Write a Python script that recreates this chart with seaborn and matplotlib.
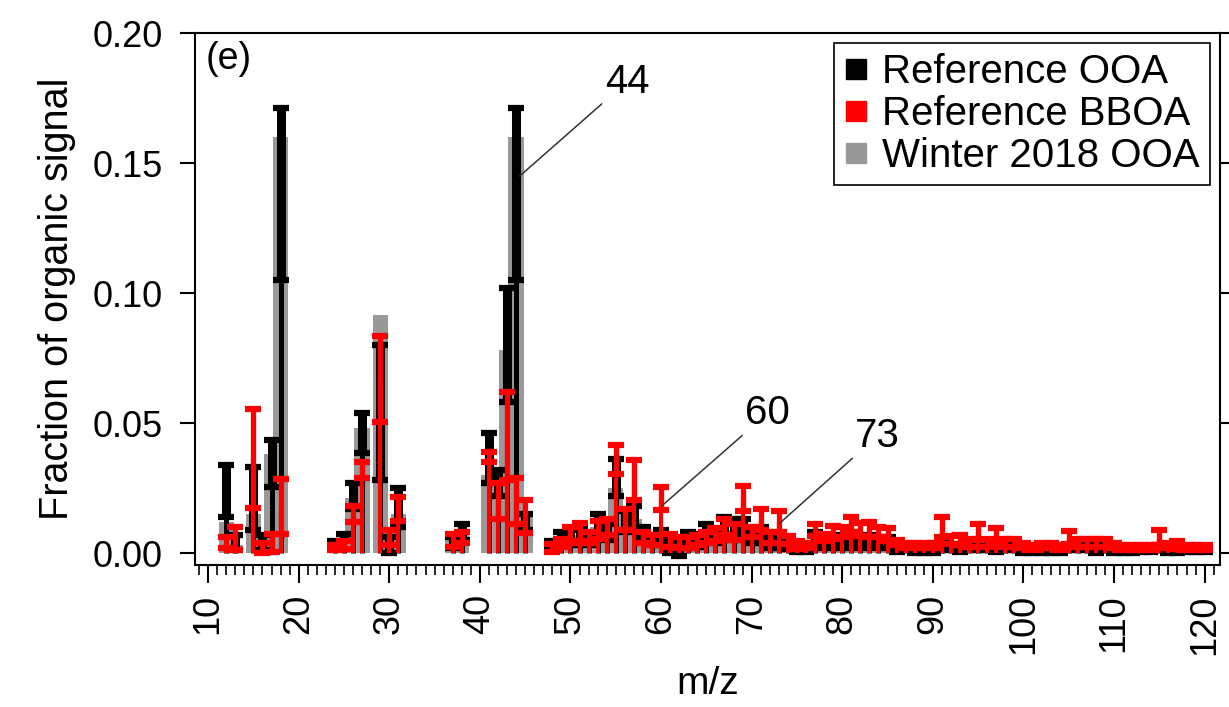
import matplotlib
matplotlib.use("Agg")
import matplotlib.pyplot as plt
import seaborn as sns
import numpy as np
from matplotlib.lines import Line2D
from matplotlib.ticker import MultipleLocator, FormatStrFormatter

# m/z values shown
mz = [12, 13, 15, 16, 17, 18, 24, 25, 26, 27, 29, 30, 31, 37, 38, 41, 42, 43, 44, 45,
      48, 49, 50, 51, 52, 53, 54, 55, 56, 57, 58, 59, 60, 61, 62, 63, 64, 65, 66, 67,
      68, 69, 70, 71, 72, 73, 74, 75, 76, 77, 78, 79, 80, 81, 82, 83, 84, 85, 86, 87,
      88, 89, 90, 91, 92, 93, 94, 95, 96, 97, 98, 99, 100, 101, 102, 103, 104, 105, 106, 107,
      108, 109, 110, 111, 112, 113, 114, 115, 116, 117, 118, 119, 120]

# Reference OOA (mean, sd)
ooa = [0.024, 0.004, 0.021, 0.004, 0.0345, 0.138, 0.003, 0.006, 0.022, 0.046, 0.054, 0.003, 0.0175, 0.004, 0.008, 0.0365, 0.027, 0.080, 0.138, 0.012,
       0.003, 0.006, 0.006, 0.007, 0.005, 0.011, 0.008, 0.029, 0.012, 0.014, 0.008, 0.005, 0.006, 0.003, 0.002, 0.005, 0.005, 0.008, 0.006, 0.010,
       0.009, 0.010, 0.006, 0.007, 0.004, 0.004, 0.003, 0.002, 0.002, 0.006, 0.004, 0.005, 0.004, 0.006, 0.004, 0.005, 0.004, 0.004, 0.002, 0.002,
       0.001, 0.001, 0.001, 0.003, 0.002, 0.002, 0.002, 0.003, 0.002, 0.002, 0.002, 0.002, 0.001, 0.001, 0.001, 0.001, 0.001, 0.002, 0.002, 0.002,
       0.001, 0.002, 0.001, 0.001, 0.001, 0.001, 0.001, 0.002, 0.001, 0.001, 0.001, 0.001, 0.001]
ooa_sd = [0.010, 0.003, 0.012, 0.003, 0.009, 0.033, 0.0015, 0.0015, 0.005, 0.0077, 0.026, 0.003, 0.0075, 0.002, 0.003, 0.0095, 0.005, 0.022, 0.033, 0.003,
          0.0015, 0.002, 0.003, 0.003, 0.002, 0.004, 0.003, 0.007, 0.004, 0.004, 0.002, 0.002, 0.003, 0.003, 0.003, 0.003, 0.0025, 0.003, 0.002, 0.004,
          0.004, 0.003, 0.002, 0.003, 0.002, 0.002, 0.0015, 0.0015, 0.0015, 0.002, 0.002, 0.002, 0.002, 0.002, 0.002, 0.002, 0.002, 0.002, 0.0015, 0.001,
          0.001, 0.001, 0.001, 0.002, 0.001, 0.0015, 0.001, 0.002, 0.001, 0.0015, 0.001, 0.001, 0.001, 0.001, 0.001, 0.001, 0.001, 0.001, 0.001, 0.001,
          0.001, 0.001, 0.001, 0.001, 0.001, 0.0005, 0.0005, 0.001, 0.001, 0.001, 0.0005, 0.0005, 0.0005]

# Reference BBOA (mean, sd)
bboa = [0.004, 0.0055, 0.0365, 0.002, 0.004, 0.018, 0.002, 0.003, 0.015, 0.032, 0.067, 0.006, 0.017, 0.005, 0.006, 0.037, 0.020, 0.045, 0.020, 0.014,
        0.002, 0.004, 0.007, 0.008, 0.006, 0.009, 0.010, 0.036, 0.013, 0.028, 0.006, 0.005, 0.021, 0.005, 0.004, 0.004, 0.005, 0.006, 0.007, 0.010,
        0.008, 0.021, 0.008, 0.013, 0.006, 0.012, 0.005, 0.003, 0.003, 0.009, 0.006, 0.008, 0.008, 0.011, 0.009, 0.009, 0.008, 0.007, 0.004, 0.003,
        0.003, 0.003, 0.003, 0.010, 0.005, 0.005, 0.004, 0.008, 0.004, 0.007, 0.004, 0.004, 0.003, 0.002, 0.003, 0.003, 0.002, 0.006, 0.004, 0.004,
        0.004, 0.004, 0.003, 0.002, 0.002, 0.002, 0.002, 0.006, 0.003, 0.003, 0.002, 0.002, 0.002]
bboa_sd = [0.002, 0.0045, 0.019, 0.002, 0.0035, 0.0105, 0.001, 0.0015, 0.003, 0.003, 0.0165, 0.003, 0.0045, 0.0025, 0.002, 0.002, 0.007, 0.017, 0.009, 0.0064,
           0.0015, 0.0015, 0.003, 0.0035, 0.002, 0.0035, 0.003, 0.0055, 0.004, 0.0077, 0.002, 0.002, 0.0045, 0.0025, 0.002, 0.002, 0.002, 0.002, 0.0025, 0.003,
           0.003, 0.0048, 0.002, 0.004, 0.002, 0.004, 0.0015, 0.0015, 0.001, 0.0023, 0.0015, 0.0025, 0.002, 0.003, 0.0025, 0.003, 0.002, 0.0025, 0.001, 0.001,
           0.001, 0.001, 0.001, 0.004, 0.0015, 0.002, 0.0015, 0.003, 0.0015, 0.0025, 0.0015, 0.0015, 0.001, 0.001, 0.001, 0.001, 0.001, 0.0025, 0.0015, 0.0015,
           0.0015, 0.0015, 0.001, 0.001, 0.001, 0.001, 0.001, 0.0028, 0.001, 0.0015, 0.001, 0.001, 0.001]

# Winter 2018 OOA
winter = [0.012, 0.003, 0.015, 0.004, 0.038, 0.160, 0.003, 0.005, 0.021, 0.048, 0.0915, 0.004, 0.015, 0.005, 0.007, 0.030, 0.022, 0.078, 0.160, 0.014,
          0.003, 0.005, 0.006, 0.007, 0.005, 0.010, 0.008, 0.025, 0.012, 0.013, 0.007, 0.004, 0.005, 0.003, 0.002, 0.004, 0.004, 0.006, 0.005, 0.009,
          0.008, 0.009, 0.005, 0.006, 0.004, 0.004, 0.003, 0.002, 0.002, 0.005, 0.004, 0.005, 0.004, 0.006, 0.004, 0.005, 0.004, 0.004, 0.002, 0.002,
          0.001, 0.001, 0.001, 0.003, 0.002, 0.002, 0.002, 0.003, 0.002, 0.002, 0.002, 0.002, 0.001, 0.001, 0.001, 0.001, 0.001, 0.002, 0.002, 0.002,
          0.001, 0.002, 0.001, 0.001, 0.001, 0.001, 0.001, 0.002, 0.001, 0.001, 0.001, 0.001, 0.001]

labels = ["Reference OOA", "Reference BBOA", "Winter 2018 OOA"]
peaks = [44, 60, 73]

sns.set_style("ticks")
plt.rcParams['font.family'] = ['Liberation Sans', 'DejaVu Sans']
plt.rcParams['text.color'] = 'black'
plt.rcParams['axes.labelcolor'] = 'black'
plt.rcParams['xtick.color'] = 'black'
plt.rcParams['ytick.color'] = 'black'

fig = plt.figure(figsize=(12.29, 7.07), dpi=100)
ax = fig.add_axes([0.1587, 0.2008, 0.8340, 0.7525])

# gray bars for winter OOA
sns.barplot(x=mz, y=winter, native_scale=True, width=1.7, color="#999999",
            saturation=1, errorbar=None, linewidth=0, ax=ax)

# black: reference OOA, sticks + error bars
ax.vlines(mz, 0, ooa, color="black", lw=3.6, zorder=3)
ax.errorbar(mz, ooa, yerr=ooa_sd, fmt="none", ecolor="black", elinewidth=6.5,
            capsize=6, capthick=4.5, zorder=3)

# red: reference BBOA
ax.vlines(mz, 0, bboa, color="#ff0000", lw=3.0, zorder=4)
ax.errorbar(mz, bboa, yerr=bboa_sd, fmt="none", ecolor="#ff0000", elinewidth=3.8,
            capsize=6, capthick=4.5, zorder=4)

ax.set_xlim(8.56, 121.7)
ax.set_ylim(-0.0046, 0.20)

ax.xaxis.set_major_locator(MultipleLocator(10))
ax.xaxis.set_minor_locator(MultipleLocator(1))
ax.yaxis.set_major_locator(MultipleLocator(0.05))
ax.yaxis.set_major_formatter(FormatStrFormatter("%.2f"))
ax.tick_params(axis="x", which="major", direction="out", length=13, width=1.5,
               labelsize=26, rotation=90, pad=8)
ax.tick_params(axis="x", which="minor", direction="out", length=7, width=1.2)
ax.tick_params(axis="y", which="major", direction="out", length=11, width=1.5,
               labelsize=26, right=True, pad=12)
ax.set_xticklabels([str(int(t)) for t in ax.get_xticks()])
for s in ax.spines.values():
    s.set_visible(True)
    s.set_linewidth(1.5)
    s.set_color("black")

ax.set_xlabel("m/z", fontsize=28, labelpad=8)
ax.set_ylabel("Fraction of organic signal", fontsize=28.5, labelpad=12)

ax.text(0.01, 0.985, "(e)", transform=ax.transAxes, fontsize=27, va="top", ha="left")

# peak labels
label_pos = {44: (53.8, 0.174, 44.4, 0.145), 60: (69.3, 0.0465, 60.2, 0.0185),
             73: (81.4, 0.0377, 73.1, 0.0115)}
for p in peaks:
    tx, ty, px, py = label_pos[p]
    ax.annotate(str(p), xy=(px, py), xytext=(tx, ty), fontsize=29, ha="left", va="bottom",
                arrowprops=dict(arrowstyle="-", color="#333333", lw=1.1, shrinkA=0, shrinkB=0),
                zorder=6)

handles = [Line2D([], [], marker="s", ls="none", color=c, markersize=15)
           for c in ["black", "#ff0000", "#999999"]]
leg = ax.legend(handles, labels, loc="upper right", fontsize=29, frameon=True,
                fancybox=False, framealpha=1, edgecolor="black", borderpad=0.25,
                labelspacing=0.1, handlelength=0.6, handletextpad=0.35, borderaxespad=0.25)
leg.get_frame().set_linewidth(1.2)

fig.savefig("out.png", dpi=100)
